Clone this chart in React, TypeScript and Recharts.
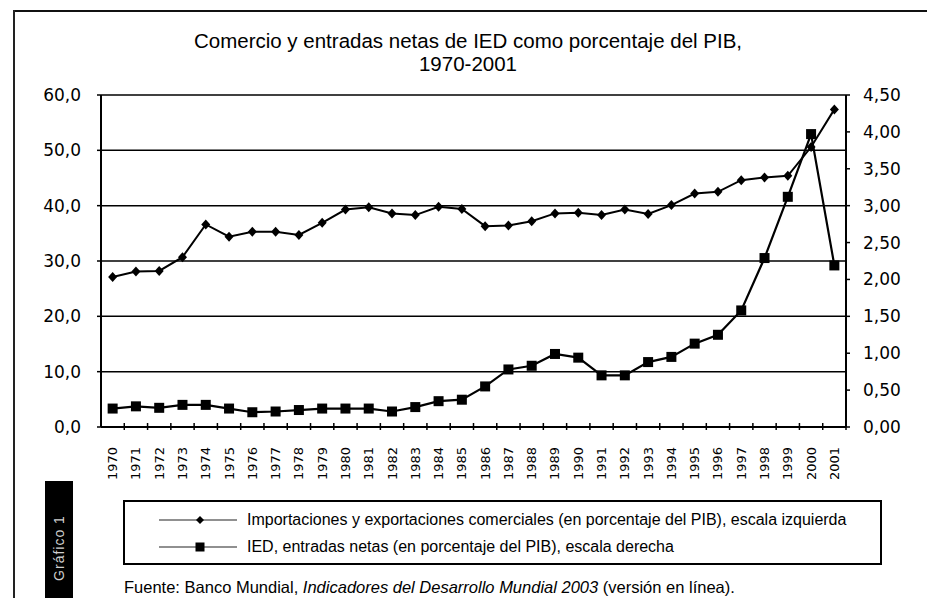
import React from "react";
import {
  ComposedChart,
  Line,
  XAxis,
  YAxis,
  CartesianGrid,
} from "recharts";

// years on the x axis
const years = [
  "1970", "1971", "1972", "1973", "1974", "1975", "1976", "1977",
  "1978", "1979", "1980", "1981", "1982", "1983", "1984", "1985",
  "1986", "1987", "1988", "1989", "1990", "1991", "1992", "1993",
  "1994", "1995", "1996", "1997", "1998", "1999", "2000", "2001",
];

// trade (imports + exports), % of GDP - left scale
const tradePct = [
  27.1, 28.1, 28.2, 30.7, 36.6, 34.4, 35.3, 35.3,
  34.7, 36.9, 39.3, 39.7, 38.6, 38.3, 39.8, 39.4,
  36.3, 36.4, 37.2, 38.6, 38.7, 38.3, 39.3, 38.5,
  40.1, 42.2, 42.5, 44.6, 45.1, 45.4, 50.6, 57.4,
];

// FDI net inflows, % of GDP - right scale
const fdiPct = [
  0.25, 0.28, 0.26, 0.3, 0.3, 0.25, 0.2, 0.21,
  0.23, 0.25, 0.25, 0.25, 0.21, 0.27, 0.35, 0.37,
  0.55, 0.78, 0.83, 0.99, 0.94, 0.7, 0.7, 0.88,
  0.95, 1.13, 1.25, 1.58, 2.29, 3.12, 3.97, 2.19,
];

const leftTicks = [0, 10, 20, 30, 40, 50, 60];
const rightTicks = [0, 0.5, 1, 1.5, 2, 2.5, 3, 3.5, 4, 4.5];

const data = years.map((year, i) => ({
  year,
  trade: tradePct[i],
  fdi: fdiPct[i],
}));

const W = 927;
const CHART_H = 482;
const PLOT_LEFT = 101;
const PLOT_RIGHT = 846;
const HALF_BAND = (PLOT_RIGHT - PLOT_LEFT) / years.length / 2;

const axisFont = "'DejaVu Sans', Verdana, sans-serif";
const textFont = "'Liberation Sans', Arial, sans-serif";

const comma = (digits: number) => (v: number) => v.toFixed(digits).replace(".", ",");

const renderDiamond = (p: any) => {
  if (p.cx == null || p.cy == null) return <g key={p.index} />;
  const { cx, cy } = p;
  return (
    <path
      key={p.index}
      d={`M${cx},${cy - 5} L${cx + 4.5},${cy} L${cx},${cy + 5} L${cx - 4.5},${cy} Z`}
      fill="#000"
    />
  );
};

const renderSquare = (p: any) => {
  if (p.cx == null || p.cy == null) return <g key={p.index} />;
  return <rect key={p.index} x={p.cx - 5} y={p.cy - 5} width={10} height={10} fill="#000" />;
};

const YearTick = (props: any) => {
  const { x, y, payload } = props;
  return (
    <g>
      <line x1={x + HALF_BAND} x2={x + HALF_BAND} y1={y - 4} y2={y + 3} stroke="#000" strokeWidth={1.5} />
      <text
        transform={`translate(${x},${y + 20}) rotate(-90)`}
        textAnchor="end"
        dominantBaseline="central"
        fontSize={13}
        fontFamily={axisFont}
        fill="#000"
      >
        {payload.value}
      </text>
    </g>
  );
};

const LegendRow = ({ top, marker, label }: { top: number; marker: "diamond" | "square"; label: string }) => (
  <div style={{ position: "absolute", left: 0, top, height: 20, width: 757 }}>
    <svg width={120} height={20} style={{ position: "absolute", left: 30, top: 0 }}>
      <line x1={4} x2={82} y1={10} y2={10} stroke="#222" strokeWidth={1.2} />
      {marker === "diamond" ? (
        <path d="M45,6 L49,10 L45,14 L41,10 Z" fill="#000" />
      ) : (
        <rect x={40.5} y={5.5} width={9} height={9} fill="#000" />
      )}
    </svg>
    <div
      style={{
        position: "absolute",
        left: 122,
        top: 0,
        lineHeight: "20px",
        fontSize: 16,
        fontFamily: textFont,
        whiteSpace: "nowrap",
        color: "#000",
      }}
    >
      {label}
    </div>
  </div>
);

const titleLine: React.CSSProperties = {
  position: "absolute",
  left: 0,
  width: 936,
  textAlign: "center",
  fontFamily: textFont,
  fontSize: 20.5,
  lineHeight: "22px",
  color: "#000",
  whiteSpace: "nowrap",
};

export default function App() {
  return (
    <div
      style={{
        position: "absolute",
        left: 0,
        top: 0,
        width: W,
        height: 598,
        background: "#fff",
        overflow: "hidden",
      }}
    >
      {/* page frame */}
      <div style={{ position: "absolute", left: 13, top: 10, width: W - 13, height: 2, background: "#111" }} />
      <div style={{ position: "absolute", left: 13, top: 10, width: 2, height: 588, background: "#222" }} />

      {/* title */}
      <div style={{ ...titleLine, top: 30 }}>Comercio y entradas netas de IED como porcentaje del PIB,</div>
      <div style={{ ...titleLine, top: 53 }}>1970-2001</div>

      <div style={{ position: "absolute", left: 0, top: 0 }}>
        <ComposedChart
          width={W}
          height={CHART_H}
          data={data}
          margin={{ top: 95, right: 0, bottom: 5, left: 0 }}
        >
          <CartesianGrid yAxisId="left" vertical={false} stroke="#000" strokeWidth={1.5} />
          <XAxis
            dataKey="year"
            scale="band"
            height={50}
            interval={0}
            tickLine={false}
            tickSize={0}
            tickMargin={0}
            axisLine={{ stroke: "#000", strokeWidth: 2 }}
            tick={<YearTick />}
          />
          <YAxis
            yAxisId="left"
            width={101}
            domain={[0, 60]}
            ticks={leftTicks}
            tickFormatter={comma(1)}
            tickSize={4}
            tickMargin={16}
            axisLine={{ stroke: "#000", strokeWidth: 2 }}
            tickLine={{ stroke: "#000", strokeWidth: 1.5 }}
            tick={{ fill: "#000", fontSize: 17, fontFamily: axisFont }}
          />
          <YAxis
            yAxisId="right"
            orientation="right"
            width={81}
            domain={[0, 4.5]}
            ticks={rightTicks}
            tickFormatter={comma(2)}
            tickSize={4}
            tickMargin={13}
            axisLine={{ stroke: "#000", strokeWidth: 2 }}
            tickLine={{ stroke: "#000", strokeWidth: 1.5 }}
            tick={{ fill: "#000", fontSize: 17, fontFamily: axisFont }}
          />
          <Line
            yAxisId="left"
            dataKey="trade"
            type="linear"
            stroke="#000"
            strokeWidth={2}
            dot={renderDiamond}
            activeDot={false}
            isAnimationActive={false}
          />
          <Line
            yAxisId="right"
            dataKey="fdi"
            type="linear"
            stroke="#000"
            strokeWidth={2.2}
            dot={renderSquare}
            activeDot={false}
            isAnimationActive={false}
          />
        </ComposedChart>
      </div>

      {/* "Gráfico 1" side tab */}
      <div style={{ position: "absolute", left: 45, top: 481, width: 28, height: 117, background: "#000" }}>
        <div
          style={{
            position: "absolute",
            left: 14,
            top: 67,
            transform: "translate(-50%, -50%) rotate(-90deg)",
            color: "#cfcfcf",
            fontFamily: textFont,
            fontSize: 14,
            letterSpacing: 1,
            whiteSpace: "nowrap",
          }}
        >
          Gráfico 1
        </div>
      </div>

      {/* legend */}
      <div
        style={{
          position: "absolute",
          left: 123,
          top: 500,
          width: 755,
          height: 61,
          border: "2px solid #000",
        }}
      >
        <LegendRow
          top={8}
          marker="diamond"
          label="Importaciones y exportaciones comerciales (en porcentaje del PIB), escala izquierda"
        />
        <LegendRow top={35} marker="square" label="IED, entradas netas (en porcentaje del PIB), escala derecha" />
      </div>

      {/* source */}
      <div
        style={{
          position: "absolute",
          left: 124,
          top: 577,
          fontFamily: textFont,
          fontSize: 16.5,
          lineHeight: "20px",
          whiteSpace: "nowrap",
          color: "#000",
        }}
      >
        Fuente: Banco Mundial, <i>Indicadores del Desarrollo Mundial 2003</i> (versión en línea).
      </div>
    </div>
  );
}
